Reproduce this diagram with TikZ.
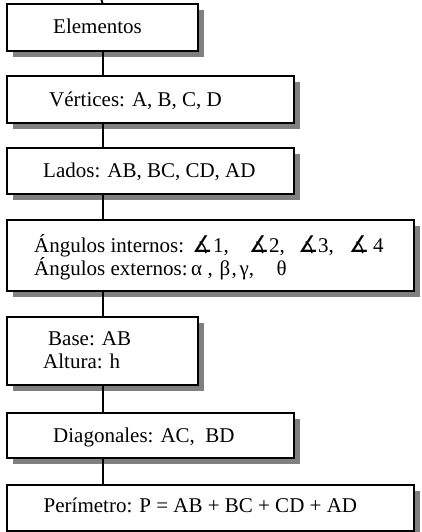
\documentclass[tikz,border=0pt]{standalone}
\usepackage{fontspec}
\setmainfont{Liberation Serif}
\newfontfamily\symfont{DejaVu Sans}
\usetikzlibrary{shadows}
\definecolor{shadowgray}{RGB}{128,128,128}
\newcommand{\angsym}{\kern-2.5pt{\symfont\fontsize{23}{23}\selectfont ∡}}
\newcommand{\pc}[2]{\makebox[#1pt][l]{#2}}
\begin{document}
\begin{tikzpicture}[x=1pt,y=-1pt,
  box/.style={draw=black, line width=2pt, fill=white, rectangle, inner sep=0pt,
    anchor=north west,
    drop shadow={shadow xshift=6pt, shadow yshift=-6pt, fill=shadowgray, opacity=1}},
  txt/.style={anchor=base west, inner sep=0pt, font=\fontsize{21}{22}\selectfont},
  conn/.style={draw=black, line width=2pt}]
\useasboundingbox (0,0) rectangle (422,532);
\node[box, minimum width=191pt, minimum height=47pt] (b1) at (6,3) {};
\node[box, minimum width=287pt, minimum height=47pt] (b2) at (6,75) {};
\node[box, minimum width=287pt, minimum height=46pt] (b3) at (6,147) {};
\node[box, minimum width=407pt, minimum height=71pt] (b4) at (6,219) {};
\node[box, minimum width=191pt, minimum height=68pt] (b5) at (6,316) {};
\node[box, minimum width=287pt, minimum height=45pt] (b6) at (6,412) {};
\node[box, minimum width=407pt, minimum height=46pt] (b7) at (6,484) {};
\coordinate (top) at (101.5,0);
\draw[conn] (top) -- (b1.north);
\draw[conn] (b1.south) -- (b2.north -| b1.south);
\draw[conn] (b2.south -| b1.south) -- (b3.north -| b1.south);
\draw[conn] (b3.south -| b1.south) -- (b4.north -| b1.south);
\draw[conn] (b4.south -| b1.south) -- (b5.north -| b1.south);
\draw[conn] (b5.south -| b1.south) -- (b6.north -| b1.south);
\draw[conn] (b6.south -| b1.south) -- (b7.north -| b1.south);
\node[txt] (t1) at (53,34) {Elementos};
\node[txt] (t2) at (49,106.5) {Vértices: A, B, C, D};
\node[txt] (t3) at (43,177.5) {Lados: AB, BC, CD, AD};
\node[txt] (t4a) at (34,252.5) {\pc{160.5}{Ángulos internos:}\pc{18.5}{\angsym}\pc{38.2}{1,}\pc{17.8}{\angsym}\pc{31.5}{2,}\pc{17.5}{\angsym}\pc{33.2}{3,}\pc{21.8}{\angsym}4};
\node[txt] (t4b) at (34,275) {\pc{157}{Ángulos externos:}\pc{16.5}{α}\pc{12}{,}\pc{12}{β}\pc{8}{,}\pc{37}{γ,}θ};
\node[txt] (t5a) at (48,345) {Base: AB};
\node[txt] (t5b) at (43,368) {Altura: h};
\node[txt] (t6) at (53,442) {Diagonales: AC,\hspace{5.25pt} BD};
\node[txt] (t7) at (43.5,512) {Perímetro: P = AB + BC + CD + AD};
\end{tikzpicture}
\end{document}
